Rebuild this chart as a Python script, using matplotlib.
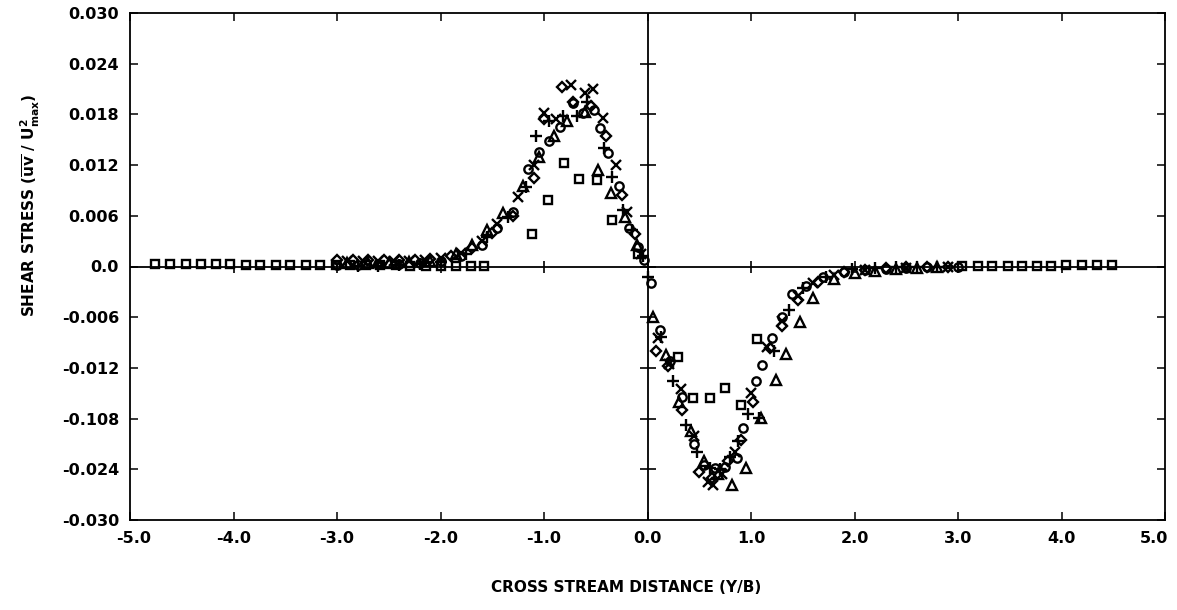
import matplotlib.pyplot as plt
import matplotlib.transforms as mtrans
import numpy as np

plt.rcParams['font.family'] = ['DejaVu Sans']
plt.rcParams['font.weight'] = 'bold'
plt.rcParams['mathtext.fontset'] = 'custom'
plt.rcParams['mathtext.rm'] = 'DejaVu Sans:bold'
plt.rcParams['mathtext.it'] = 'DejaVu Sans:bold'
plt.rcParams['mathtext.bf'] = 'DejaVu Sans:bold'

# axis ticks (the -0.108 label is a typo in the original figure, kept as is)
x_ticks = [-5.0, -4.0, -3.0, -2.0, -1.0, 0.0, 1.0, 2.0, 3.0, 4.0, 5.0]
x_labels = ['-5.0', '-4.0', '-3.0', '-2.0', '-1.0', '0.0', '1.0', '2.0', '3.0', '4.0', '5.0']
y_ticks = [0.030, 0.024, 0.018, 0.012, 0.006, 0.0, -0.006, -0.012, -0.018, -0.024, -0.030]
y_labels = ['0.030', '0.024', '0.018', '0.012', '0.006', '0.0',
            '-0.006', '-0.012', '-0.108', '-0.024', '-0.030']

# measured shear stress, one list pair per symbol
sq_x = [-4.76, -4.61, -4.46, -4.31, -4.17, -4.03, -3.88, -3.74, -3.59, -3.45, -3.30,
        -3.16, -3.01, -2.87, -2.72, -2.58, -2.43, -2.29, -2.14, -2.00, -1.85, -1.71, -1.58,
        -1.12, -0.96, -0.81, -0.66, -0.49, -0.34, -0.09,
        0.29, 0.44, 0.60, 0.75, 0.90, 1.06,
        3.04, 3.19, 3.33, 3.48, 3.62, 3.76, 3.90, 4.04, 4.20, 4.34, 4.49]
sq_y = [0.0003, 0.0003, 0.0003, 0.0003, 0.0003, 0.0003, 0.0002, 0.0002, 0.0002, 0.0002, 0.0002,
        0.0002, 0.0002, 0.0002, 0.0002, 0.0002, 0.0002, 0.0001, 0.0001, 0.0001, 0.0001, 0.0001, 0.0001,
        0.0039, 0.0079, 0.0122, 0.0104, 0.0102, 0.0055, 0.0015,
        -0.0107, -0.0156, -0.0156, -0.0144, -0.0164, -0.0086,
        0.0001, 0.0001, 0.0001, 0.0001, 0.0001, 0.0001, 0.0001, 0.0002, 0.0002, 0.0002, 0.0002]

ci_x = [-3.0, -2.8, -2.6, -2.4, -2.2, -2.0, -1.8, -1.6, -1.45, -1.3, -1.15, -1.05, -0.95,
        -0.85, -0.72, -0.62, -0.52, -0.46, -0.38, -0.28, -0.18, -0.09, -0.03,
        0.03, 0.12, 0.22, 0.33, 0.45, 0.55, 0.65, 0.75, 0.86, 0.92, 1.05, 1.11, 1.20,
        1.30, 1.40, 1.53, 1.70, 1.90, 2.10, 2.30, 2.50, 2.70, 3.0]
ci_y = [0.0002, 0.0002, 0.0003, 0.0003, 0.0004, 0.0006, 0.0012, 0.0025, 0.0045, 0.0065,
        0.0115, 0.0135, 0.0148, 0.0165, 0.0194, 0.0182, 0.0185, 0.0164, 0.0134, 0.0095,
        0.0045, 0.0023, 0.0008,
        -0.0020, -0.0075, -0.0112, -0.0155, -0.0210, -0.0235, -0.0238, -0.0237, -0.0227,
        -0.0191, -0.0136, -0.0116, -0.0085, -0.0060, -0.0033, -0.0023, -0.0012, -0.0006,
        -0.0004, -0.0003, -0.0002, -0.0001, 0.0]

tr_x = [-2.9, -2.7, -2.5, -2.3, -2.1, -1.85, -1.7, -1.55, -1.4, -1.2, -1.05, -0.9, -0.78,
        -0.6, -0.48, -0.35, -0.22, -0.10,
        0.05, 0.18, 0.30, 0.42, 0.55, 0.68, 0.82, 0.95, 1.10, 1.24, 1.34, 1.47, 1.60,
        1.80, 2.00, 2.20, 2.40, 2.60, 2.80]
tr_y = [0.0004, 0.0004, 0.0004, 0.0005, 0.0007, 0.0015, 0.0026, 0.0043, 0.0063, 0.0095,
        0.0130, 0.0155, 0.0172, 0.0183, 0.0114, 0.0087, 0.0058, 0.0025,
        -0.0060, -0.0105, -0.0160, -0.0195, -0.0230, -0.0245, -0.0259, -0.0239, -0.0179,
        -0.0134, -0.0104, -0.0066, -0.0037, -0.0015, -0.0008, -0.0005, -0.0003, -0.0002, 0.0]

di_x = [-3.0, -2.85, -2.7, -2.55, -2.4, -2.25, -2.1, -1.9, -1.7, -1.5, -1.3, -1.1, -1.0,
        -0.83, -0.72, -0.55, -0.40, -0.25, -0.12,
        0.08, 0.20, 0.33, 0.50, 0.62, 0.78, 0.90, 1.02, 1.18, 1.30, 1.45, 1.65, 1.90,
        2.10, 2.30, 2.50, 2.70, 2.90]
di_y = [0.0008, 0.0008, 0.0008, 0.0008, 0.0008, 0.0008, 0.0009, 0.0013, 0.0022, 0.0040,
        0.0060, 0.0105, 0.0175, 0.0213, 0.0195, 0.0190, 0.0155, 0.0085, 0.0038,
        -0.0100, -0.0118, -0.0170, -0.0243, -0.0250, -0.0230, -0.0205, -0.0160, -0.0096,
        -0.0070, -0.0040, -0.0018, -0.0006, -0.0004, -0.0002, -0.0001, 0.0, 0.0]

cr_x = [-2.9, -2.75, -2.6, -2.45, -2.3, -2.15, -2.0, -1.8, -1.6, -1.45, -1.25, -1.1, -1.0,
        -0.88, -0.74, -0.60, -0.53, -0.43, -0.30, -0.20, -0.06,
        0.10, 0.21, 0.32, 0.45, 0.58, 0.63, 0.72, 0.85, 1.00, 1.15, 1.30, 1.45, 1.60,
        1.80, 2.10, 2.50, 2.90]
cr_y = [0.0006, 0.0006, 0.0007, 0.0006, 0.0006, 0.0008, 0.0010, 0.0016, 0.0030, 0.0050,
        0.0082, 0.0120, 0.0182, 0.0175, 0.0215, 0.0205, 0.0210, 0.0176, 0.0120, 0.0065, 0.0015,
        -0.0085, -0.0115, -0.0145, -0.0200, -0.0255, -0.0259, -0.0245, -0.0220, -0.0150,
        -0.0095, -0.0065, -0.0035, -0.0020, -0.0010, -0.0004, -0.0002, 0.0]

pl_x = [-2.8, -2.6, -2.4, -2.2, -2.0, -1.75, -1.55, -1.35, -1.17, -1.08, -0.95, -0.82,
        -0.68, -0.58, -0.42, -0.34, -0.24, -0.15, -0.04,
        0.0, 0.13, 0.25, 0.37, 0.48, 0.60, 0.70, 0.80, 0.87, 0.97, 1.08, 1.22, 1.37, 1.50,
        1.72, 1.98, 2.20, 2.40, 2.60, 2.80]
pl_y = [0.0001, 0.0001, 0.0002, 0.0003, 0.0005, 0.0015, 0.0035, 0.0058, 0.0094, 0.0155,
        0.0172, 0.0178, 0.0178, 0.0195, 0.0140, 0.0106, 0.0067, 0.0043, 0.0012,
        -0.0012, -0.0083, -0.0135, -0.0187, -0.0219, -0.0238, -0.0240, -0.0225, -0.0207,
        -0.0175, -0.0179, -0.0100, -0.0052, -0.0025, -0.0013, -0.0003, -0.0002, -0.0001,
        -0.0001, 0.0]

fig = plt.figure(figsize=(11.77, 6.10), dpi=100)
ax = fig.add_axes([130 / 1177, 90 / 610, 1035 / 1177, 507 / 610])

mk = dict(color='black', markerfacecolor='none', linestyle='none', markeredgewidth=1.7)
ax.plot(sq_x, sq_y, marker='s', markersize=5.5, **mk)
ax.plot(ci_x, ci_y, marker='o', markersize=6, **mk)
ax.plot(tr_x, tr_y, marker='^', markersize=7, **mk)
ax.plot(di_x, di_y, marker='D', markersize=5.5, **mk)
ax.plot(cr_x, cr_y, marker='x', markersize=7, **mk)
ax.plot(pl_x, pl_y, marker='+', markersize=8, **mk)

# zero lines through the middle, with their own tick crosses
ax.axhline(0, color='black', lw=1.3, zorder=1)
ax.axvline(0, color='black', lw=1.3, zorder=1)
ax.plot(x_ticks[1:-1], np.zeros(len(x_ticks) - 2), marker='|', markersize=9,
        color='black', linestyle='none', markeredgewidth=1.2)
ax.plot(np.zeros(len(y_ticks) - 2), y_ticks[1:-1], marker='_', markersize=12,
        color='black', linestyle='none', markeredgewidth=1.2)

ax.set_xlim(-5.0, 5.0)
ax.set_ylim(-0.030, 0.030)
ax.set_xticks(x_ticks)
ax.set_xticklabels(x_labels)
ax.set_yticks(y_ticks)
ax.set_yticklabels(y_labels)
ax.tick_params(direction='in', length=6, width=1.1, labelsize=11.5,
               top=True, right=True, pad=8)
for s in ax.spines.values():
    s.set_linewidth(1.3)

# end labels sit slightly inward in the original
xl = ax.get_xticklabels()
xl[0].set_transform(xl[0].get_transform() + mtrans.ScaledTranslation(0.04, 0, fig.dpi_scale_trans))
xl[-1].set_transform(xl[-1].get_transform() + mtrans.ScaledTranslation(-0.11, 0, fig.dpi_scale_trans))

fig.text(626 / 1177, 1 - 588 / 610, 'CROSS STREAM DISTANCE (Y/B)',
         ha='center', va='center', fontsize=11, fontweight='bold')
fig.text(30 / 1177, 1 - 205 / 610,
         r'SHEAR STRESS ($\overline{\mathrm{uv}}$ / U$^{\mathrm{2}}_{\mathrm{max}}$)',
         ha='center', va='center', rotation=90, fontsize=11, fontweight='bold')

fig.savefig('out.png', dpi=100)
